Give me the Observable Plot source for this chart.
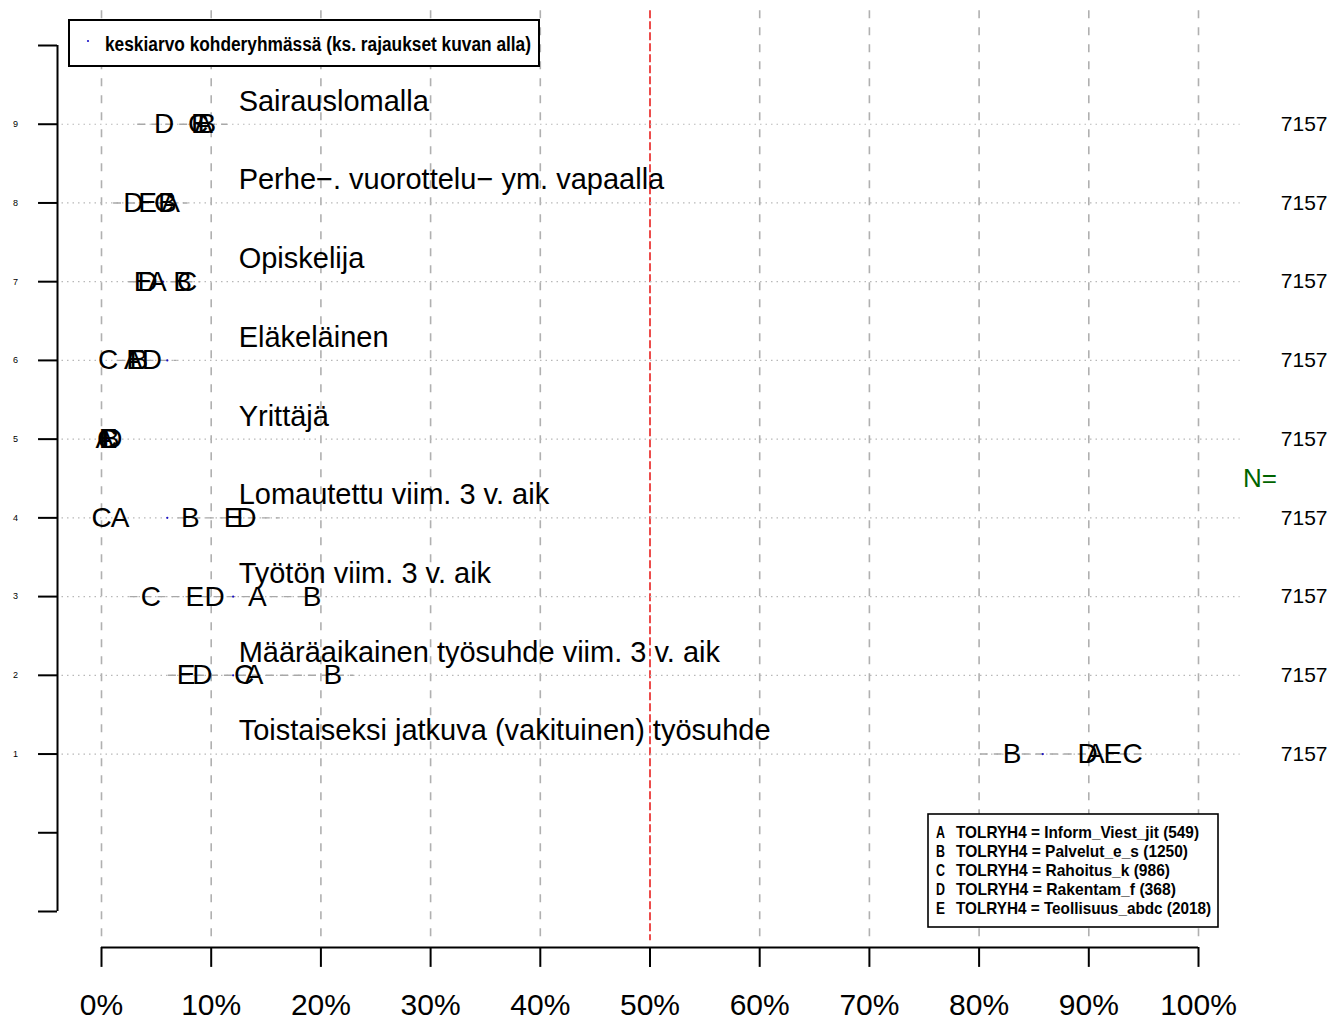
<!DOCTYPE html>
<html>
<head>
<meta charset="utf-8">
<script src="https://cdn.jsdelivr.net/npm/d3@7"></script>
<script src="https://cdn.jsdelivr.net/npm/@observablehq/plot@0.6"></script>
<style>
  html, body { margin: 0; padding: 0; background: #fff; }
  #chart { width: 1331px; height: 1020px; }
  svg { font-family: "Liberation Sans", Arial, sans-serif; }
</style>
</head>
<body>
<div id="chart"></div>
<script>
// ---- data (row 1 = bottom, row 9 = top) ----
const categories = [
  "Toistaiseksi jatkuva (vakituinen) työsuhde",
  "Määräaikainen työsuhde viim. 3 v. aik",
  "Työtön viim. 3 v. aik",
  "Lomautettu viim. 3 v. aik",
  "Yrittäjä",
  "Eläkeläinen",
  "Opiskelija",
  "Perhe−. vuorottelu− ym. vapaalla",
  "Sairauslomalla"
];
const groupLetters = ["A", "B", "C", "D", "E"];
const groupNames = [
  "TOLRYH4 = Inform_Viest_jit (549)",
  "TOLRYH4 = Palvelut_e_s (1250)",
  "TOLRYH4 = Rahoitus_k (986)",
  "TOLRYH4 = Rakentam_f (368)",
  "TOLRYH4 = Teollisuus_abdc (2018)"
];
const valsA = [90.6, 13.9, 14.2, 1.7, 0.3, 2.9, 5.1, 6.3, 9.3];
const valsB = [83.0, 21.1, 19.2, 8.1, 0.8, 3.4, 7.4, 6.0, 9.6];
const valsC = [94.0, 13.0, 4.5, 0.0, 0.5, 0.6, 7.8, 5.7, 8.8];
const valsD = [89.9, 9.2, 10.3, 13.2, 1.0, 4.6, 4.2, 2.9, 5.7];
const valsE = [92.2, 7.7, 8.5, 12.0, 0.6, 3.1, 3.8, 4.2, 9.0];
const means   = [85.8, 12.0, 12.0, 6.0, 0.6, 6.0, 5.6, 5.5, 8.8];
const rangeLo = [80.1, 6.1, 2.6, 7.0, 0.0, 1.5, 2.5, 1.1, 3.3];
const rangeHi = [95.0, 23.0, 20.6, 16.3, 1.5, 6.9, 9.0, 7.9, 11.5];
const nValues = [7157, 7157, 7157, 7157, 7157, 7157, 7157, 7157, 7157];
const xTicks = [0, 10, 20, 30, 40, 50, 60, 70, 80, 90, 100];
const yTicks = [-1, 0, 1, 2, 3, 4, 5, 6, 7, 8, 9, 10];
const yLabels = [1, 2, 3, 4, 5, 6, 7, 8, 9];
const topLegendText = "keskiarvo kohderyhmässä (ks. rajaukset kuvan alla)";

// ---- derived tables ----
const groupVals = [valsA, valsB, valsC, valsD, valsE];
const letters = [];
groupVals.forEach((arr, g) => arr.forEach((v, i) => letters.push({row: i + 1, x: v, letter: groupLetters[g]})));
const rows = categories.map((c, i) => ({row: i + 1, label: c, mean: means[i], lo: rangeLo[i], hi: rangeHi[i], n: nValues[i]}));
const gridTicks = xTicks.filter(d => d !== 50);

const plot = Plot.plot({
  width: 1331,
  height: 1020,
  marginLeft: 101,
  marginRight: 133,
  marginTop: 45,
  marginBottom: 109,
  x: {domain: [0, 100], axis: null},
  y: {domain: [-1, 10], axis: null},
  style: {fontFamily: "Liberation Sans, Arial, sans-serif", background: "white"},
  marks: [
    // vertical grid
    Plot.ruleX(gridTicks, {x: d => d, y1: 10.44, y2: -1.37, stroke: "#b0b0b0", strokeWidth: 1.6, strokeDasharray: "8,9"}),
    Plot.ruleX([50], {x: d => d, y1: 10.44, y2: -1.37, stroke: "#e8201e", strokeWidth: 1.6, strokeDasharray: "8,3"}),
    // dotted row lines
    Plot.ruleY(rows, {y: "row", x1: -3.6, x2: 103.8, stroke: "#b8b8b8", strokeWidth: 1.2, strokeDasharray: "1.5,4"}),
    // range dashes
    Plot.ruleY(rows, {y: "row", x1: "lo", x2: "hi", stroke: "#a8a8a8", strokeWidth: 1.4, strokeDasharray: "8,6"}),
    // means
    Plot.dot(rows, {x: "mean", y: "row", r: 1.1, fill: "#1a10c8", stroke: "none"}),
    // group letters
    Plot.text(letters, {x: "x", y: "row", text: "letter", fontSize: 28, fill: "black"}),
    // category labels
    Plot.text(rows, {x: 12.5, y: d => d.row + 0.29, text: "label", textAnchor: "start", fontSize: 29, fill: "black"}),
    // N values
    Plot.text(rows, {x: 107.5, y: "row", text: d => String(d.n), textAnchor: "start", fontSize: 21, fill: "black"}),
    Plot.text(["N="], {x: 105.6, y: 4.5, text: d => d, fontSize: 26, fill: "#006400"}),
    // bottom axis
    Plot.ruleY([-1.457], {y: d => d, x1: 0, x2: 100, stroke: "black", strokeWidth: 2}),
    Plot.ruleX(xTicks, {x: d => d, y1: -1.457, y2: -1.71, stroke: "black", strokeWidth: 2}),
    Plot.text(xTicks, {x: d => d, y: -2.19, text: d => d + "%", fontSize: 30, fill: "black"}),
    // left axis
    Plot.ruleX([-4.01], {x: d => d, y1: -1, y2: 10, stroke: "black", strokeWidth: 2}),
    Plot.ruleY(yTicks, {y: d => d, x1: -5.74, x2: -4.01, stroke: "black", strokeWidth: 2}),
    Plot.text(yLabels, {x: -7.85, y: d => d, text: d => String(d), fontSize: 9, fill: "black"})
  ]
});

document.getElementById("chart").appendChild(plot);

// ---- legends (layout drawn on the same svg) ----
const svg = d3.select(plot);
// top-left legend
const tl = svg.append("g").attr("text-anchor", "start");
tl.append("rect").attr("x", 69).attr("y", 20).attr("width", 470).attr("height", 46)
  .attr("fill", "white").attr("stroke", "black").attr("stroke-width", 2);
tl.append("circle").attr("cx", 88).attr("cy", 41).attr("r", 1.1).attr("fill", "#1a10c8");
tl.append("text").attr("x", 105).attr("y", 44).attr("dy", "0.35em")
  .attr("text-anchor", "start")
  .attr("font-size", 20).attr("font-weight", "bold").attr("fill", "black")
  .attr("textLength", 426).attr("lengthAdjust", "spacingAndGlyphs")
  .text(topLegendText);

// bottom-right legend
const br = svg.append("g").attr("text-anchor", "start");
br.append("rect").attr("x", 928).attr("y", 814).attr("width", 290).attr("height", 113)
  .attr("fill", "white").attr("stroke", "black").attr("stroke-width", 1.6);
const lineY = [832, 851, 870, 889, 908];
const lineEnd = [1199, 1188, 1170, 1176, 1211];
groupLetters.forEach((L, i) => {
  br.append("text").attr("x", 936).attr("y", lineY[i]).attr("dy", "0.35em")
    .attr("text-anchor", "start")
    .attr("font-size", 17).attr("font-weight", "bold").attr("fill", "black")
    .attr("textLength", 9).attr("lengthAdjust", "spacingAndGlyphs").text(L);
  br.append("text").attr("x", 956).attr("y", lineY[i]).attr("dy", "0.35em")
    .attr("text-anchor", "start")
    .attr("font-size", 17).attr("font-weight", "bold").attr("fill", "black")
    .attr("textLength", lineEnd[i] - 956).attr("lengthAdjust", "spacingAndGlyphs").text(groupNames[i]);
});
</script>
</body>
</html>
